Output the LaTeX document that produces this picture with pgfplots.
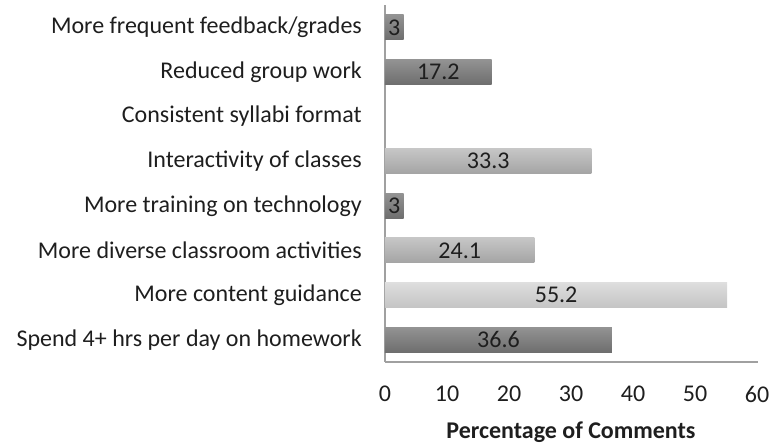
\documentclass[border=0pt]{standalone}
\usepackage{pgfplots}
\pgfplotsset{compat=1.18}
\usepackage{fontspec}
\setmainfont{Carlito}
\definecolor{txt}{HTML}{1E1E1E}
\definecolor{axln}{HTML}{A0A0A0}
\definecolor{dkT}{HTML}{939393}
\definecolor{dkB}{HTML}{6E6E6E}
\definecolor{ltT}{HTML}{DEDEDE}
\definecolor{ltB}{HTML}{C4C4C4}
\definecolor{mdT}{HTML}{C6C6C6}
\definecolor{mdB}{HTML}{A4A4A4}
\begin{document}
\begin{tikzpicture}
\path[use as bounding box] (0,0) rectangle (774pt,446pt);
\begin{axis}[
  at={(385pt,84pt)}, anchor=south west,
  scale only axis, width=372pt, height=357pt,
  xmin=0, xmax=60, ymin=-0.5, ymax=7.5,
  xbar, bar width=25pt, bar shift=0pt,
  axis x line*=bottom, axis y line*=left,
  axis line style={axln, line width=1.3pt, -},
  x axis line style={shorten >=-1pt},
  xtick={0,10,...,60}, major tick length=0pt,
  ytick={0,...,7},
  yticklabels={Spend 4+ hrs per day on homework, More content guidance, More diverse classroom activities, More training on technology, Interactivity of classes, Consistent syllabi format, Reduced group work, More frequent feedback/grades},
  /pgf/number format/assume math mode=true,
  tick label style={font=\fontsize{24}{28}\selectfont, text=txt},
  yticklabel style={inner sep=0pt, xshift=-23pt},
  xticklabel style={inner sep=0pt, yshift=-24pt},
  xlabel={\textbf{Percentage of Comments}},
  xlabel style={font=\fontsize{24}{28}\selectfont, text=txt, inner sep=0pt, yshift=-19pt},
  nodes near coords,
  visualization depends on=rawx \as \rawx,
  every node near coord/.append style={font=\fontsize{24}{28}\selectfont, text=txt, anchor=center, inner sep=0pt, shift={(axis direction cs:-\rawx/2,0)}},
  clip=false,
  dk/.style={draw=none, top color=dkT, bottom color=dkB},
  lt/.style={draw=none, top color=ltT, bottom color=ltB},
  md/.style={draw=none, top color=mdT, bottom color=mdB},
]
\addplot[dk] coordinates {(36.6,0)};
\addplot[lt] coordinates {(55.2,1)};
\addplot[md] coordinates {(24.1,2)};
\addplot[dk] coordinates {(3,3)};
\addplot[md] coordinates {(33.3,4)};
\addplot[dk] coordinates {(17.2,6)};
\addplot[dk] coordinates {(3,7)};
\end{axis}
\end{tikzpicture}
\end{document}
